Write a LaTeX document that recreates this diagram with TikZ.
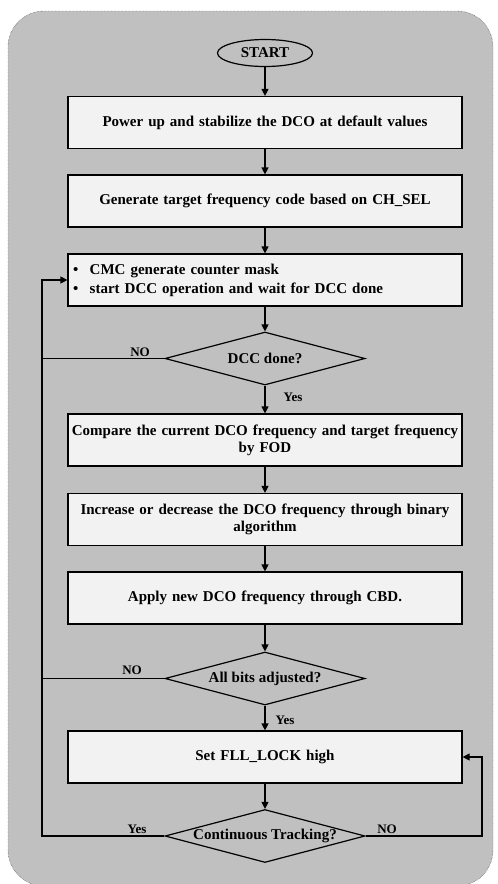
\documentclass[tikz,border=0pt]{standalone}
\usepackage{fontspec}
\setmainfont{Liberation Serif}
\usetikzlibrary{shapes.geometric,arrows.meta,positioning}
\definecolor{panelgray}{HTML}{C0C0C0}
\definecolor{boxfill}{HTML}{F2F2F2}
\tikzset{
  >={Triangle[length=7pt,width=7pt]},
}

\begin{document}
\begin{tikzpicture}[
  x=1pt,y=-1pt,
  every node/.style={font=\fontsize{15}{17}\selectfont\bfseries},
  proc/.style={draw,line width=1.2pt,fill=boxfill,text width=392pt,inner xsep=1pt,minimum height=52pt,align=center},
  bul/.style={proc,text width=384pt,inner xsep=5pt,align=left,font=\fontsize{15}{19}\selectfont\bfseries},
  dec/.style={draw,diamond,line width=1.2pt,aspect=3.77,inner sep=0pt,minimum width=200pt,minimum height=53pt},
  term/.style={draw,ellipse,line width=1.2pt,minimum width=95pt,minimum height=27pt,inner sep=0pt},
  flow/.style={->,line width=1.2pt},
  lab/.style={font=\fontsize{13}{15}\selectfont\bfseries}
]
\useasboundingbox (0,0) rectangle (498,884);
\draw[densely dotted,gray!30!black,fill=panelgray,rounded corners=36pt] (8,11) rectangle (493,886);

\node[term] (start) at (265,53) {START};
\node[proc] (pwr) at (265,122.5) {Power up and stabilize the DCO at default values};
\node[proc] (gen) at (265,201) {Generate target frequency code based on CH\_SEL};
\node[bul] (cmc) at (265,280)
  {\textbullet\hspace{11.5pt}CMC generate counter mask\\
   \textbullet\hspace{11.5pt}start DCC operation and wait for DCC done};
\node[dec] (dccq) at (265,358.5) {DCC done?};
\node[proc] (cmp) at (265,440) {Compare the current DCO frequency and target frequency\\by FOD};
\node[proc] (inc) at (265,519.5) {Increase or decrease the DCO frequency through binary\\algorithm};
\node[proc] (app) at (265,598) {Apply new DCO frequency through CBD.};
\node[dec] (bitsq) at (265,678.5) {All bits adjusted?};
\node[proc] (lock) at (265,757) {Set FLL\_LOCK high};
\node[dec] (trackq) at (265,836) {Continuous Tracking?};

\coordinate (lp) at (42,280);
\coordinate (rp) at (482,757);

\draw[flow] (start) -- (pwr);
\draw[flow] (pwr) -- (gen);
\draw[flow] (gen) -- (cmc);
\draw[flow] (cmc) -- (dccq);
\draw[flow] (dccq) -- (cmp);
\draw[flow] (cmp) -- (inc);
\draw[flow] (inc) -- (app);
\draw[flow] (app) -- (bitsq);
\draw[flow] (bitsq) -- (lock);
\draw[flow] (lock) -- (trackq);

\draw[flow] (trackq.west) -| (lp) -- (cmc.west);
\draw[line width=1.2pt] (dccq.west) -- (dccq.west -| lp);
\draw[line width=1.2pt] (bitsq.west) -- (bitsq.west -| lp);
\draw[flow] (trackq.east) -| (rp) -- (lock.east);

\node[lab] (no1) at (140,352) {NO};
\node[lab] (yes1) at (293,397) {Yes};
\node[lab] (no2) at (132,670) {NO};
\node[lab] (yes2) at (285,720) {Yes};
\node[lab] (yes3) at (137,829) {Yes};
\node[lab] (no3) at (387,829) {NO};

\end{tikzpicture}
\end{document}
